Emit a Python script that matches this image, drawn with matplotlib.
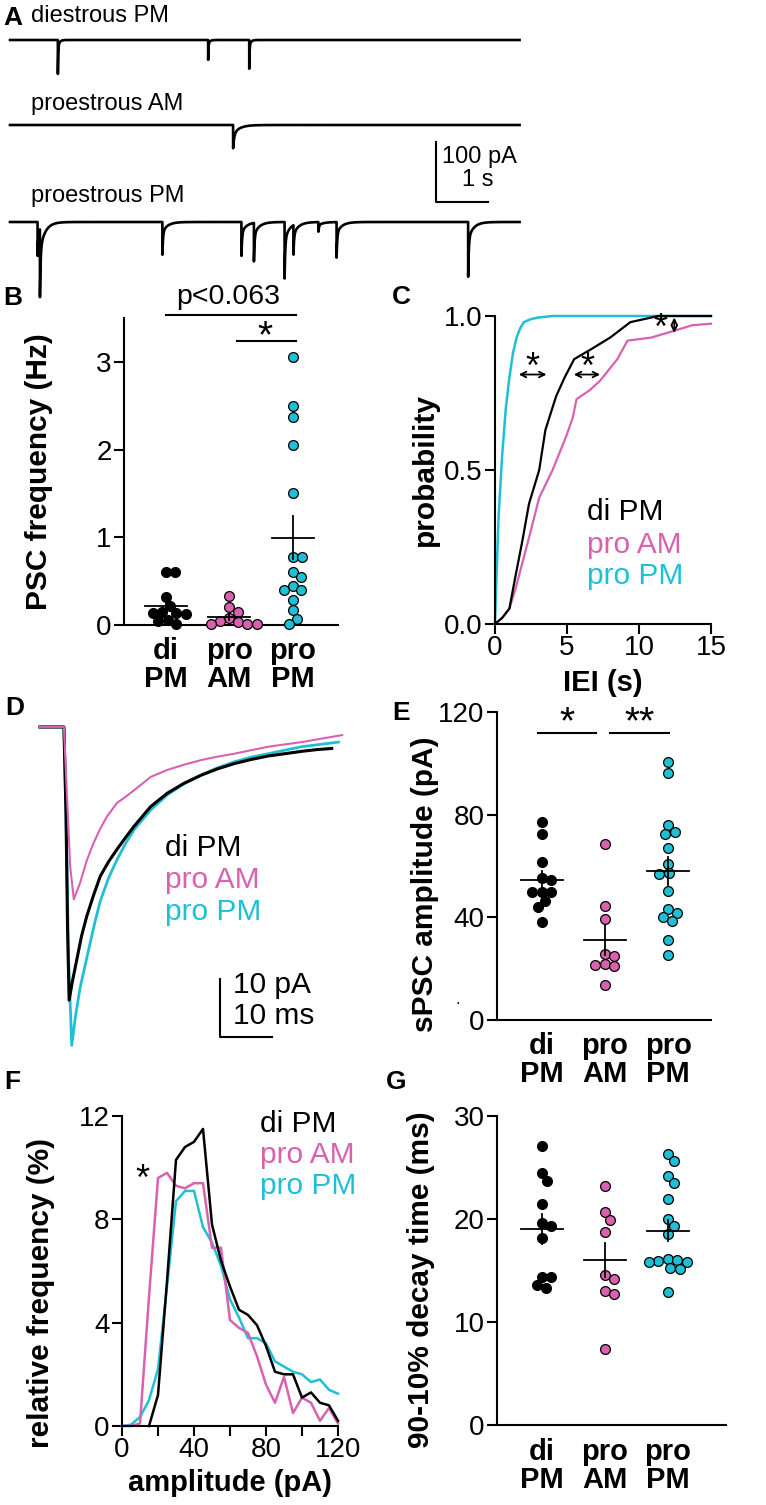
import numpy as np
import matplotlib
matplotlib.use('Agg')
import matplotlib.pyplot as plt

W, H = 766, 1505
BLACK = '#000000'
PINK = '#d862b0'
CYAN = '#1fc0d6'

groups = ['di\nPM', 'pro\nAM', 'pro\nPM']
legend_names = ['di PM', 'pro AM', 'pro PM']

# A: spontaneous events (time s, amplitude pA) per example trace
events_di = [(0.92, 65), (3.81, 38), (4.60, 55)]
events_proam = [(4.29, 40)]
events_propm = [(0.53, 60), (0.575, 120), (2.93, 58), (4.45, 60), (4.69, 68),
                (5.28, 100), (5.45, 52), (5.93, 17), (6.28, 63), (8.81, 97)]
trace_names = ['diestrous PM', 'proestrous AM', 'proestrous PM']

# B: sPSC frequency (Hz)
freq_di = [0.6, 0.6, 0.32, 0.22, 0.15, 0.14, 0.14, 0.13, 0.06, 0.04, 0.01]
freq_proam = [0.33, 0.2, 0.15, 0.08, 0.05, 0.03, 0.01, 0.01, 0.01]
freq_propm = [3.05, 2.5, 2.37, 2.05, 1.5, 0.78, 0.78, 0.6, 0.55, 0.45, 0.4,
              0.4, 0.28, 0.17, 0.07, 0.01]

# C: cumulative IEI distributions
iei_propm_x = [0, 0.1, 0.25, 0.5, 0.75, 1.0, 1.25, 1.5, 1.75, 2.0, 2.5, 3, 4, 15]
iei_propm_y = [0, 0.15, 0.35, 0.55, 0.7, 0.8, 0.88, 0.93, 0.96, 0.98, 0.99, 0.995, 1, 1]
iei_di_x = [0, 0.5, 1.0, 1.4, 1.9, 2.36, 3.07, 3.5, 4.25, 4.83, 5.5, 6.6, 8.0, 9.4, 10.85, 11.3, 15]
iei_di_y = [0, 0.02, 0.05, 0.15, 0.27, 0.39, 0.5, 0.63, 0.74, 0.8, 0.86, 0.89, 0.93, 0.98, 0.995, 1.0, 1.0]
iei_proam_x = [0, 0.5, 1.0, 1.4, 2.36, 3.07, 4.0, 4.95, 5.4, 5.66, 6.6, 7.3, 8.5, 9.2, 10.85, 12.3, 13.7, 15]
iei_proam_y = [0, 0.02, 0.05, 0.11, 0.28, 0.41, 0.5, 0.61, 0.67, 0.73, 0.76, 0.79, 0.86, 0.92, 0.93, 0.95, 0.97, 0.975]

# D: averaged sPSC waveforms (ms, pA)
wave_di_t = [0, 4.6, 5.0, 5.3, 5.6, 6.2, 7.1, 8.0, 9.0, 10.3, 11.6, 13.2, 14.8, 16.5, 18.1,
             21.3, 24.5, 27.7, 31.0, 34.2, 37.4, 40.6, 43.9, 47.1, 50.3, 53.2, 56.1]
wave_di_a = [0, 0, -15, -35, -47.1, -44, -40, -36, -32.6, -29, -25.7, -23.2, -21.1, -19, -17.1,
             -13.7, -11.4, -9.7, -8.3, -7.2, -6.3, -5.6, -5.0, -4.6, -4.2, -3.9, -3.7]
wave_propm_t = [0, 4.6, 5.0, 5.5, 6.1, 6.8, 7.7, 8.7, 9.7, 10.6, 11.6, 13.2, 14.8, 16.5, 18.1,
                21.3, 24.5, 27.7, 31.0, 34.2, 37.4, 40.6, 43.9, 47.1, 50.3, 53.9, 57.4]
wave_propm_a = [0, 0, -15, -40, -54.9, -50, -45, -41, -37, -33.5, -30, -26, -22.9, -20, -17.7,
                -14.3, -11.7, -9.8, -8.3, -7.0, -6.0, -5.2, -4.6, -4.0, -3.4, -3.0, -2.6]
wave_proam_t = [0, 4.6, 5.2, 5.8, 6.5, 7.7, 9.0, 10.3, 11.6, 12.9, 14.8, 16.5, 18.1, 21.3,
                24.5, 27.7, 31.0, 34.2, 37.4, 40.6, 43.9, 47.1, 50.3, 54.2, 58.1]
wave_proam_a = [0, 0, -12, -24, -29.7, -26.9, -23, -20, -17.5, -15.4, -13.1, -12, -10.9, -8.6,
                -7.4, -6.5, -5.7, -5.1, -4.6, -4.0, -3.4, -3.0, -2.6, -2.0, -1.4]

# E: sPSC amplitude (pA)
amp_di = [77, 72.3, 61.5, 55.2, 54.5, 50, 50, 50, 46.5, 43.9, 38]
amp_proam = [68.6, 44.5, 39.4, 25.7, 24.8, 21.9, 21.4, 20.9, 13.5]
amp_propm = [100.6, 96.1, 76.1, 73.3, 72.3, 67.1, 60.9, 57.2, 57, 50.3, 43.1, 41.7,
             40, 38.5, 31, 25.2]

# F: amplitude histograms (% per 5 pA bin)
bins = [0, 5, 10, 15, 20, 25, 30, 35, 40, 45, 50, 55, 60, 65, 70, 75, 80, 85, 90,
        95, 100, 105, 110, 115, 120]
hist_di = [None, None, None, 0, 1.2, 5.6, 10.3, 10.8, 11.0, 11.5, 7.8, 6.4, 5.4, 4.5,
           4.3, 3.9, 3.1, 2.1, 2.0, 2.0, 1.1, 1.3, 0.9, 0.8, 0.2]
hist_proam = [0, 0, 0.1, 5.0, 9.6, 9.8, 9.3, 9.2, 9.4, 9.4, 6.9, 6.9, 4.1, 3.8, 3.6, 2.7,
              1.6, 0.9, 1.9, 0.5, 1.1, 0.9, 0.2, 0.7, 0.1]
hist_propm = [0, 0.05, 0.35, 1.0, 2.2, 5.4, 8.7, 9.1, 9.1, 7.7, 7.1, 6.2, 4.9, 4.2, 3.4,
              3.4, 3.2, 2.5, 2.3, 2.1, 2.0, 1.7, 1.8, 1.4, 1.25]

# G: 90-10% decay time (ms)
decay_di = [27.1, 24.5, 23.7, 21.5, 19.6, 19.3, 18.2, 14.4, 14.4, 13.6, 13.3]
decay_proam = [23.2, 20.7, 19.9, 18.7, 14.6, 14.2, 13.0, 12.7, 7.4]
decay_propm = [26.3, 25.6, 24.2, 23.5, 21.9, 20.0, 19.3, 18.5, 16.1, 16.0, 15.9, 15.8,
               15.8, 15.2, 15.1, 12.9]

plt.rcParams['font.family'] = ['Liberation Sans', 'DejaVu Sans']
plt.rcParams['axes.linewidth'] = 1.5

TICK = 20      # tick numbers
CAT = 21       # bold category / x labels
YLAB = 21.5    # rotated bold labels
LEG = 21.5     # coloured legend text
LET = 19       # panel letters
A_SIZE = 17    # trace names in A

fig = plt.figure(figsize=(W / 100, H / 100), dpi=100)


def px_axes(l, t, r, b):
    return fig.add_axes([l / W, 1 - b / H, (r - l) / W, (b - t) / H])


def ftext(x, y, s, **kw):
    kw.setdefault('va', 'center')
    fig.text(x / W, 1 - y / H, s, **kw)


def style(ax):
    for s in ['top', 'right']:
        ax.spines[s].set_visible(False)
    ax.tick_params(direction='out', length=7, width=1.5, labelsize=TICK, pad=2)


def ylabel(ax, s, x, y=0.5):
    ax.set_ylabel(s, fontweight='bold', fontsize=YLAB)
    ax.yaxis.set_label_coords(x, y)


def swarm_x(ax, vals, x0, d=9.5):
    tr = ax.transData
    ppu = tr.transform((1, 0))[0] - tr.transform((0, 0))[0]
    placed = []
    xs = []
    for v in vals:
        yp = tr.transform((x0, v))[1]
        off = 0.0
        for k in range(400):
            found = False
            for sgn in ([0] if k == 0 else [1, -1]):
                o = sgn * k * 0.5
                if all((o - px) ** 2 + (yp - py) ** 2 >= d * d for px, py in placed):
                    off = o
                    found = True
                    break
            if found:
                break
        placed.append((off, yp))
        xs.append(x0 + off / ppu)
    return xs


def dot_plot(ax, data, colors):
    for i, (vals, c) in enumerate(zip(data, colors)):
        xs = swarm_x(ax, vals, i)
        ax.scatter(xs, vals, s=50, facecolor=c, edgecolor='k', linewidth=0.9,
                   zorder=3, clip_on=False)
        m = np.mean(vals)
        sem = np.std(vals, ddof=1) / np.sqrt(len(vals))
        ax.plot([i - 0.33, i + 0.33], [m, m], color='k', lw=1.3, zorder=4)
        ax.plot([i, i], [m - sem, m + sem], color='k', lw=1.3, zorder=4)
    ax.set_xticks([0, 1, 2])
    ax.set_xticklabels(groups, fontweight='bold', fontsize=CAT)
    for lbl in ax.get_xticklabels():
        lbl.set_linespacing(1.0)
    ax.tick_params(axis='x', length=0, pad=9)


def kernel_trace(events, t, tau_f, tau_s, frac_s):
    y = np.zeros_like(t)
    for t0, a in events:
        dt = t - t0
        k = np.where(dt >= 0, (1 - frac_s) * np.exp(-dt / tau_f) + frac_s * np.exp(-dt / tau_s), 0.0)
        k = k * np.clip(dt / 0.001, 0, 1)
        y -= a * k
    return y


# ---- A
axA = px_axes(0, 25, 766, 305)
axA.set_xlim(-10 / 52, 756 / 52)
axA.set_ylim(-265 / 0.6, 15 / 0.6)
axA.axis('off')
t = np.arange(0, 9.8, 0.0005)
offsets = [0, -85 / 0.6, -182 / 0.6]
kern = [(0.006, 0.03, 0.2), (0.02, 0.12, 0.4), (0.012, 0.1, 0.3)]
for ev, off, kp in zip([events_di, events_proam, events_propm], offsets, kern):
    axA.plot(t, kernel_trace(ev, t, *kp) + off, color='k', lw=1.9)
axA.plot([8.19, 8.19, 9.19], [-170, -270, -270], color='k', lw=1.5)
ftext(3, 18, 'A', fontsize=LET, fontweight='bold')
for name, y in zip(trace_names, [16, 104, 196]):
    ftext(31, y, name, fontsize=A_SIZE)
ftext(442, 157, '100 pA', fontsize=A_SIZE)
ftext(494, 180, '1 s', fontsize=A_SIZE, ha='right')

# ---- B
axB = px_axes(124, 318, 338, 625)
axB.set_xlim(-0.66, 2.71)
axB.set_ylim(0, 3.5)
style(axB)
axB.set_yticks([0, 1, 2, 3])
dot_plot(axB, [freq_di, freq_proam, freq_propm], [BLACK, PINK, CYAN])
ylabel(axB, 'PSC frequency (Hz)', -0.33)
axB.plot([0, 2.05], [3.53, 3.53], color='k', lw=1.5, clip_on=False)
axB.plot([1.12, 2.05], [3.24, 3.24], color='k', lw=1.5, clip_on=False)
ftext(228, 297, 'p<0.063', fontsize=LEG - 1, ha='center')
ftext(265, 337, '*', fontsize=28, ha='center')
ftext(13, 298, 'B', fontsize=LET, fontweight='bold', ha='center')

# ---- C
axC = px_axes(495, 316, 711, 624)
axC.set_xlim(0, 15)
axC.set_ylim(0, 1)
style(axC)
axC.plot(iei_propm_x, iei_propm_y, color=CYAN, lw=1.8, clip_on=False)
axC.plot(iei_proam_x, iei_proam_y, color=PINK, lw=1.6, clip_on=False)
axC.plot(iei_di_x, iei_di_y, color='k', lw=1.6, clip_on=False)
axC.set_xticks([0, 5, 10, 15])
axC.set_yticks([0, 0.5, 1.0])
axC.set_yticklabels(['0.0', '0.5', '1.0'])
axC.tick_params(axis='x', pad=1)
axC.set_xlabel('IEI (s)', fontweight='bold', fontsize=CAT, labelpad=6)
ylabel(axC, 'probability', -0.26)
for x1, x2 in [(1.65, 3.58), (5.47, 7.3)]:
    axC.annotate('', xy=(x1, 0.81), xytext=(x2, 0.81),
                 arrowprops=dict(arrowstyle='<->', lw=1.3, color='k', shrinkA=0, shrinkB=0))
    axC.text((x1 + x2) / 2, 0.83, '*', fontsize=26, ha='center', va='center')
axC.annotate('', xy=(12.45, 0.995), xytext=(12.45, 0.945),
             arrowprops=dict(arrowstyle='<->', lw=1.3, color='k', shrinkA=0, shrinkB=0),
             annotation_clip=False)
axC.text(11.5, 0.955, '*', fontsize=26, ha='center', va='center')
for s, c, y in zip(legend_names, [BLACK, PINK, CYAN], [0.365, 0.257, 0.155]):
    axC.text(6.4, y, s, color=c, fontsize=LEG, va='center')
ftext(401, 297, 'C', fontsize=LET, fontweight='bold', ha='center')

# ---- D
axD = px_axes(30, 710, 350, 1060)
axD.set_xlim(-10 / 5.2, 310 / 5.2)
axD.set_ylim(-(1060 - 727) / 5.8, (727 - 710) / 5.8)
axD.axis('off')
axD.plot(wave_propm_t, wave_propm_a, color=CYAN, lw=2.0)
axD.plot(wave_di_t, wave_di_a, color='k', lw=2.2)
axD.plot(wave_proam_t, wave_proam_a, color=PINK, lw=1.5)
axD.plot([34.6, 34.6, 44.6], [-43.4, -53.4, -53.4], color='k', lw=1.5)
for s, c, y in zip(legend_names, [BLACK, PINK, CYAN], [848, 880, 912]):
    ftext(165, y, s, color=c, fontsize=LEG)
ftext(233, 985, '10 pA', fontsize=LEG)
ftext(233, 1016, '10 ms', fontsize=LEG)
ftext(15, 708, 'D', fontsize=LET, fontweight='bold', ha='center')

# ---- E
axE = px_axes(497, 712, 711, 1020)
axE.set_xlim(-0.71, 2.68)
axE.set_ylim(0, 120)
style(axE)
axE.set_yticks([0, 40, 80, 120])
dot_plot(axE, [amp_di, amp_proam, amp_propm], [BLACK, PINK, CYAN])
ylabel(axE, 'sPSC amplitude (pA)', -0.27, 0.44)
axE.plot([-0.06, 0.86], [112, 112], color='k', lw=1.5, clip_on=False)
axE.plot([1.08, 2.02], [112, 112], color='k', lw=1.5, clip_on=False)
axE.text(0.4, 115.5, '*', fontsize=28, ha='center', va='center')
axE.text(1.55, 115.5, '**', fontsize=28, ha='center', va='center')
ftext(458, 1000, '.', fontsize=12, ha='center')
ftext(401, 713, 'E', fontsize=LET, fontweight='bold', ha='center')

# ---- F
axF = px_axes(122, 1116, 338, 1426)
axF.set_xlim(0, 120)
axF.set_ylim(0, 12)
style(axF)
hd = [(b, v) for b, v in zip(bins, hist_di) if v is not None]
axF.plot(bins, hist_propm, color=CYAN, lw=1.8, clip_on=False)
axF.plot(bins, hist_proam, color=PINK, lw=1.8, clip_on=False)
axF.plot([p[0] for p in hd], [p[1] for p in hd], color='k', lw=1.8, clip_on=False)
axF.set_xticks([0, 20, 40, 60, 80, 100, 120])
axF.set_xticklabels(['0', '', '40', '', '80', '', '120'])
axF.set_yticks([0, 4, 8, 12])
axF.tick_params(axis='x', pad=1)
axF.set_xlabel('amplitude (pA)', fontweight='bold', fontsize=CAT, labelpad=4)
ylabel(axF, 'relative frequency (%)', -0.31, 0.43)
axF.text(11.5, 9.5, '*', fontsize=26, ha='center', va='center')
for s, c, y in zip(legend_names, [BLACK, PINK, CYAN], [11.7, 10.5, 9.3]):
    axF.text(76.4, y, s, color=c, fontsize=LEG, va='center')
ftext(12, 1082, 'F', fontsize=LET, fontweight='bold', ha='center')

# ---- G
axG = px_axes(497, 1116, 726, 1425)
axG.set_xlim(-0.71, 2.92)
axG.set_ylim(0, 30)
style(axG)
axG.set_yticks([0, 10, 20, 30])
dot_plot(axG, [decay_di, decay_proam, decay_propm], [BLACK, PINK, CYAN])
ylabel(axG, '90-10% decay time (ms)', -0.27, 0.47)
ftext(396, 1082, 'G', fontsize=LET, fontweight='bold', ha='center')

fig.savefig('out.png', dpi=100)
